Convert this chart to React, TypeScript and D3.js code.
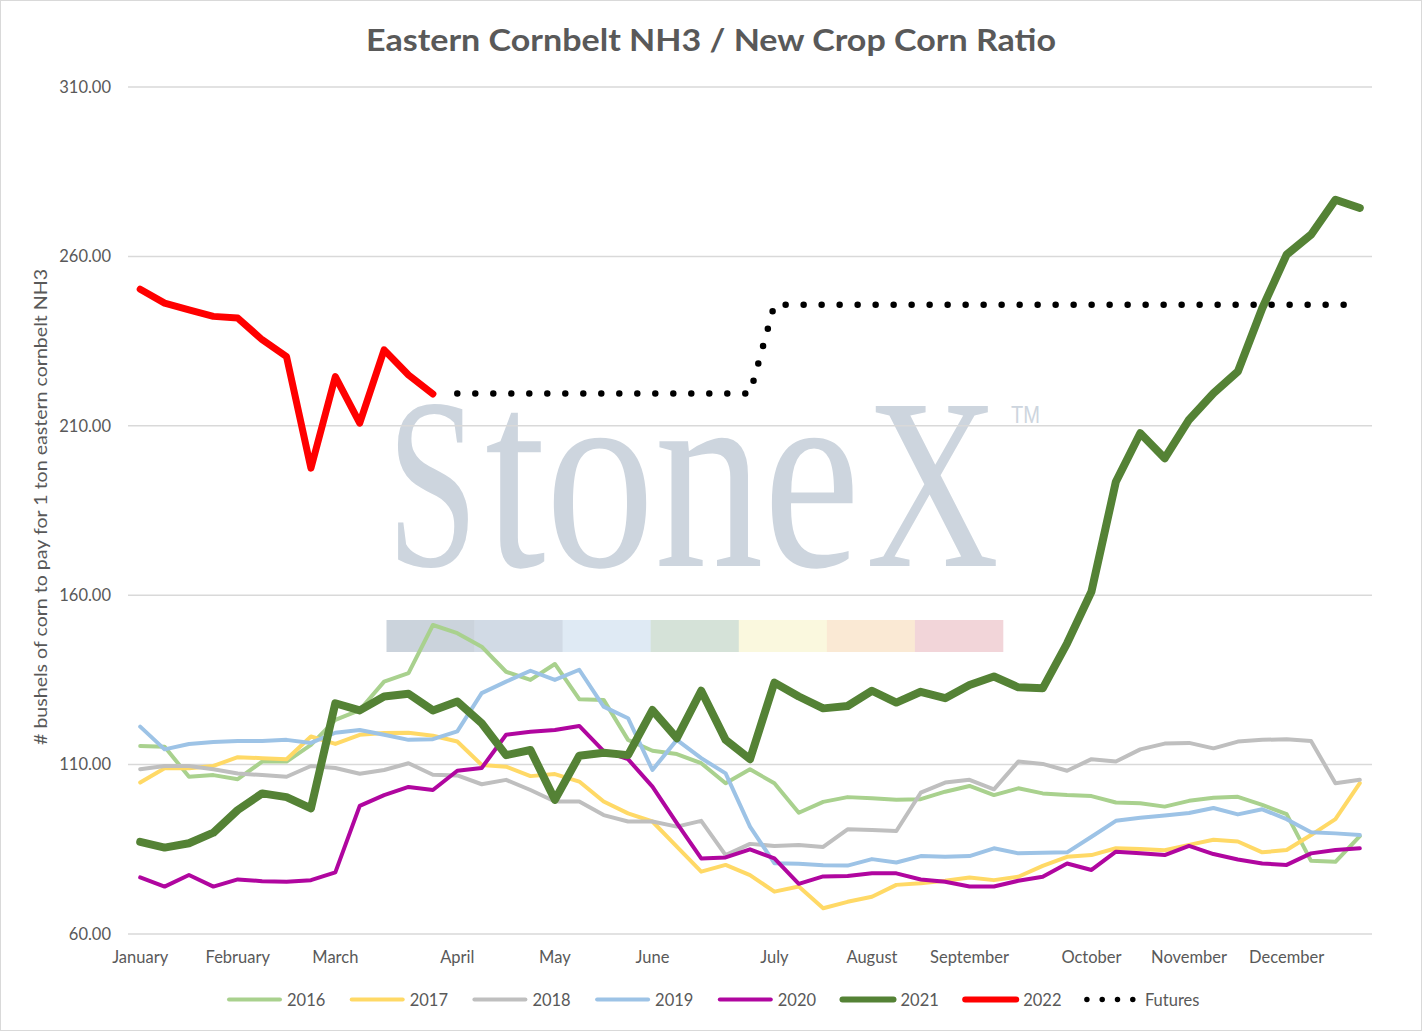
import React from 'react';
import * as d3 from 'd3';

const W = 1422;
const H = 1031;

// Category axis: 51 weekly points, month name shown at the first week of each month
const weekCount = 51;
const monthNames = ['January', 'February', 'March', 'April', 'May', 'June', 'July', 'August', 'September', 'October', 'November', 'December'];
const monthWeek = [0, 4, 8, 13, 17, 21, 26, 30, 34, 39, 43, 47];
const yTicks = [60, 110, 160, 210, 260, 310];

const s2016 = [115.5, 115.3, 106.4, 106.9, 105.7, 110.9, 110.9, 115.8, 123.2, 126.1, 134.5, 137.0, 151.2, 148.8, 144.8, 137.4, 135.0, 139.7, 129.3, 129.1, 117.3, 114.1, 113.1, 110.4, 104.5, 108.6, 104.5, 95.8, 99.0, 100.4, 100.1, 99.6, 99.8, 102.0, 103.7, 101.0, 103.0, 101.5, 101.0, 100.7, 98.8, 98.6, 97.6, 99.3, 100.2, 100.5, 98.1, 95.4, 81.6, 81.3, 88.9];
const s2017 = [104.7, 108.9, 108.9, 109.6, 112.2, 111.9, 111.6, 118.3, 116.1, 118.8, 119.3, 119.4, 118.5, 116.8, 109.9, 109.4, 106.6, 107.2, 105.0, 99.1, 95.6, 93.2, 85.8, 78.4, 80.4, 77.4, 72.5, 74.0, 67.6, 69.5, 71.0, 74.5, 75.0, 75.7, 76.7, 75.9, 76.9, 80.1, 82.8, 83.3, 85.3, 85.1, 84.7, 86.3, 87.8, 87.3, 84.1, 84.8, 89.2, 93.9, 104.5];
const s2018 = [108.6, 109.6, 109.6, 108.6, 107.4, 106.9, 106.4, 109.6, 109.0, 107.3, 108.4, 110.4, 107.0, 106.8, 104.2, 105.5, 102.5, 99.1, 99.1, 95.1, 93.2, 93.2, 91.7, 93.4, 83.3, 86.6, 86.0, 86.3, 85.7, 90.9, 90.7, 90.4, 101.7, 104.7, 105.5, 102.7, 110.9, 110.2, 108.2, 111.6, 110.9, 114.5, 116.2, 116.4, 114.8, 116.8, 117.3, 117.5, 117.0, 104.5, 105.5];
const s2019 = [121.2, 114.5, 116.1, 116.7, 117.0, 117.0, 117.3, 116.4, 119.4, 120.2, 118.8, 117.3, 117.5, 119.8, 131.1, 134.5, 137.7, 135.0, 138.0, 127.1, 123.7, 108.4, 117.3, 111.9, 107.4, 91.7, 80.9, 80.7, 80.3, 80.2, 82.1, 81.1, 83.0, 82.8, 83.0, 85.3, 83.8, 84.0, 84.1, 88.7, 93.4, 94.3, 95.0, 95.7, 97.2, 95.3, 96.8, 93.9, 90.0, 89.7, 89.2];
const s2020 = [76.7, 74.0, 77.4, 74.0, 76.1, 75.6, 75.4, 75.9, 78.2, 97.8, 101.0, 103.4, 102.5, 108.2, 109.0, 118.8, 119.7, 120.2, 121.4, 114.0, 111.6, 103.5, 92.7, 82.3, 82.6, 85.0, 82.3, 74.8, 77.0, 77.1, 77.9, 77.9, 76.1, 75.4, 74.0, 74.0, 75.7, 76.9, 80.8, 78.9, 84.3, 83.8, 83.3, 86.0, 83.6, 82.0, 80.8, 80.4, 83.8, 84.8, 85.3];
const s2021 = [87.2, 85.5, 86.8, 89.9, 96.6, 101.5, 100.4, 97.1, 128.1, 126.0, 130.1, 130.9, 126.0, 128.6, 122.2, 112.8, 114.3, 99.6, 112.6, 113.5, 112.8, 126.1, 117.8, 131.8, 117.3, 111.6, 134.2, 130.1, 126.6, 127.3, 131.8, 128.3, 131.5, 129.6, 133.5, 136.0, 132.8, 132.5, 145.8, 161.1, 193.5, 207.8, 200.4, 211.8, 219.6, 226.0, 244.7, 260.5, 266.4, 276.7, 274.3];
const s2022 = [250.3, 246.2, 244.2, 242.3, 241.8, 235.4, 230.4, 197.5, 224.5, 210.8, 232.4, 225.0, 219.4];
const sFutures: (number | null)[] = [
  null, null, null, null, null, null, null, null, null, null, null, null, null,
  219.5, 219.5, 219.5, 219.5, 219.5, 219.5, 219.5, 219.5, 219.5, 219.5, 219.5, 219.5, 219.5,
  245.7, 245.7, 245.7, 245.7, 245.7, 245.7, 245.7, 245.7, 245.7, 245.7, 245.7, 245.7, 245.7,
  245.7, 245.7, 245.7, 245.7, 245.7, 245.7, 245.7, 245.7, 245.7, 245.7, 245.7, 245.7,
];

type Series = { name: string; data: (number | null)[]; color: string; width: number; dotted?: boolean };
const series: Series[] = [
  { name: '2016', data: s2016, color: '#a9d18e', width: 4 },
  { name: '2017', data: s2017, color: '#ffd966', width: 4 },
  { name: '2018', data: s2018, color: '#bfbfbf', width: 4 },
  { name: '2019', data: s2019, color: '#9dc3e6', width: 4 },
  { name: '2020', data: s2020, color: '#b0069f', width: 4 },
  { name: '2021', data: s2021, color: '#548235', width: 8 },
  { name: '2022', data: s2022, color: '#ff0000', width: 7 },
  { name: 'Futures', data: sFutures, color: '#000000', width: 6.5, dotted: true },
];

const wmColors = ['#cbd3dc', '#d1dae5', '#dfeaf4', '#d5e2d8', '#faf8de', '#fae9d4', '#f2d5d9'];

const FONT = 'Lato, "Open Sans", sans-serif';
const TXT = '#595959';
const WM = '#cdd5de';
const SERIF = '"Liberation Serif", "DejaVu Serif", serif';

export default function App() {
  const plotL = 128, plotR = 1372, plotT = 87, plotB = 934;
  const x = d3.scalePoint<number>().domain(d3.range(weekCount)).range([plotL, plotR]).padding(0.5);
  const y = d3.scaleLinear().domain([60, 310]).range([plotB, plotT]);

  const line = d3
    .line<number | null>()
    .defined((d) => d != null)
    .x((_, i) => x(i) as number)
    .y((d) => y(d as number));

  const legendStart = 227;
  const legendStep = 122.7;

  const wmX0 = 386.5, wmX1 = 1003;
  const segW = (wmX1 - wmX0) / wmColors.length;

  return (
    <svg width={W} height={H} style={{ position: 'absolute', left: 0, top: 0, background: '#fff' }} fontFamily={FONT}>
      <rect x={0.5} y={0.5} width={W - 1} height={H - 1} fill="#fff" stroke="#d9d9d9" strokeWidth={1} />

      {/* watermark */}
      <g fill={WM} fontFamily={SERIF}>
        <g transform="translate(387,566) scale(0.674,1)"><text fontSize={243}>S</text></g>
        <g transform="translate(485,566) scale(0.801,1)"><text fontSize={272}>tone</text></g>
        <g transform="translate(866,566) scale(0.758,1)"><text fontSize={243}>X</text></g>
        <g transform="translate(1011,423) scale(0.836,1)"><text fontFamily='"Liberation Sans", sans-serif' fontSize={24}>TM</text></g>
        {wmColors.map((c, i) => (
          <rect key={c} x={wmX0 + i * segW} y={620} width={segW + 0.3} height={32} fill={c} />
        ))}
      </g>

      {/* gridlines and y ticks */}
      {yTicks.map((t) => (
        <g key={t}>
          <line x1={plotL} x2={plotR} y1={y(t)} y2={y(t)} stroke="#d9d9d9" strokeWidth={1.5} />
          <text x={111} y={y(t)} dy="0.35em" textAnchor="end" fontSize={16.5} fill={TXT}>{t.toFixed(2)}</text>
        </g>
      ))}

      {/* x labels */}
      {monthWeek.map((w, i) => (
        <text key={monthNames[i]} x={x(w) as number} y={963} textAnchor="middle" fontSize={16.5} fill={TXT}>{monthNames[i]}</text>
      ))}

      {/* series */}
      {series.map((s) => (
        <path
          key={s.name}
          d={line(s.data) || ''}
          fill="none"
          stroke={s.color}
          strokeWidth={s.width}
          strokeLinejoin="round"
          strokeLinecap="round"
          strokeDasharray={s.dotted ? '0 18' : undefined}
        />
      ))}

      {/* title */}
      <text x={711} y={51} textAnchor="middle" fontSize={31} fontWeight="bold" fill={TXT} textLength={690} lengthAdjust="spacingAndGlyphs">
        Eastern Cornbelt NH3 / New Crop Corn Ratio
      </text>

      {/* y axis title */}
      <text transform="translate(47,507) rotate(-90)" textAnchor="middle" fontSize={16.5} fill={TXT} textLength={476} lengthAdjust="spacingAndGlyphs">
        # bushels of corn to pay for 1 ton eastern cornbelt NH3
      </text>

      {/* legend */}
      {series.map((s, i) => {
        const lx = legendStart + i * legendStep;
        return (
          <g key={'lg' + s.name}>
            {s.dotted ? (
              <line x1={lx + 1} x2={lx + 47} y1={999.5} y2={999.5} stroke={s.color} strokeWidth={5.5} strokeLinecap="round" strokeDasharray="0 15.3" />
            ) : (
              <line x1={lx + 2} x2={lx + 53} y1={999.5} y2={999.5} stroke={s.color} strokeWidth={Math.min(s.width, 6)} strokeLinecap="round" />
            )}
            <text x={lx + (s.dotted ? 59 : 60)} y={1005.5} fontSize={16.5} fill={TXT}>{s.name}</text>
          </g>
        );
      })}
    </svg>
  );
}
